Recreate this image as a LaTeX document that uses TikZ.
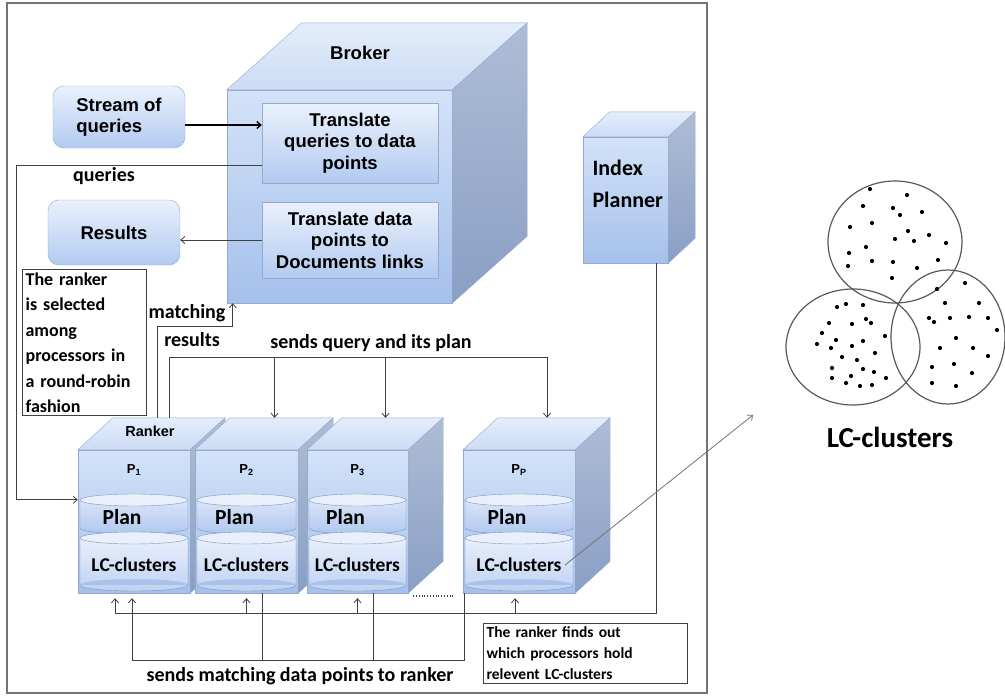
\documentclass[tikz,border=0pt]{standalone}
\usepackage{fontspec}
\usepackage{tikz}
\usetikzlibrary{arrows.meta}

\newfontfamily\arialfont{Liberation Sans}
\newfontfamily\calfont{Carlito}

\definecolor{fronttop}{HTML}{D3E2F8}
\definecolor{frontbot}{HTML}{A5C0EB}
\definecolor{topA}{HTML}{E4EDFB}
\definecolor{topB}{HTML}{CCDCF5}
\definecolor{sideA}{HTML}{AEBDD6}
\definecolor{sideB}{HTML}{8A9FC4}
\definecolor{edgeblue}{HTML}{93A9CD}
\definecolor{boxtop}{HTML}{EAF1FC}
\definecolor{boxbot}{HTML}{B2CAF0}
\definecolor{drumtop}{HTML}{E9F0FC}
\definecolor{drumrim}{HTML}{7D95BE}
\definecolor{planA}{HTML}{D9E5F8}
\definecolor{planB}{HTML}{AFC7EE}
\definecolor{lcA}{HTML}{E8EFFB}
\definecolor{lcB}{HTML}{BFD2F3}

\begin{document}
\begin{tikzpicture}[x=1pt, y=-1pt, >={Straight Barb[length=4pt,width=7pt]},
    front/.style = {draw=edgeblue, top color=fronttop, bottom color=frontbot, inner sep=0pt},
    topface/.style = {draw=edgeblue, top color=topA, bottom color=topB},
    sideface/.style = {draw=edgeblue, top color=sideA, bottom color=sideB},
    inbox/.style = {draw=edgeblue, top color=boxtop, bottom color=boxbot, align=center,
        font=\arialfont\bfseries\fontsize{18.5}{21.5}\selectfont},
    roundbox/.style = {inbox, rounded corners=11pt, minimum width=132pt},
    plandrum/.style = {top color=planA, bottom color=planB},
    lcdrum/.style = {top color=lcA, bottom color=lcB},
    drumcap/.style = {draw=drumrim, fill=drumtop},
    lbl/.style = {font=\calfont\bfseries\fontsize{20}{22}\selectfont},
    note/.style = {draw=black!75, line width=1.2pt, align=left, inner sep=3pt, anchor=north west},
    conn/.style = {draw=black!75, line width=0.8pt}]

\useasboundingbox (0,0) rectangle (1005,696);
\draw[black!55, line width=1.5pt] (7,3) rectangle (707,693);

% broker and index planner
\node[front, minimum width=225pt, minimum height=213pt] (broker) at (339.5,196.5) {};
\node[front, minimum width=85pt, minimum height=126pt] (planner) at (625.5,200) {};
\foreach \n/\dx/\dy in {broker/75/67, planner/27/25} {
    \path[topface] (\n.north west) -- ++(\dx,-\dy) -- ([shift={(\dx,-\dy)}]\n.north east) -- (\n.north east) -- cycle;
    \path[sideface] (\n.north east) -- ++(\dx,-\dy) -- ([shift={(\dx,-\dy)}]\n.south east) -- (\n.south east) -- cycle;
}
\node[font=\arialfont\bfseries\fontsize{18.5}{20}\selectfont] (brokerlbl) at (360,53) {Broker};
\node[font=\calfont\bfseries\fontsize{22}{32}\selectfont, align=left, anchor=west] (plannerlbl) at (589,184) {Index\\Planner};

\node[inbox, minimum width=176pt, minimum height=80pt] (tq) at (350,143) {Translate\\queries to data\\points};
\node[inbox, minimum width=176pt, minimum height=76pt] (td) at (350,240) {Translate data\\points to\\Documents links};

\node[roundbox, minimum height=62pt, align=left] (stream) at (119,117) {Stream of\\queries};
\node[roundbox, minimum height=65pt] (results) at (114,232.5) {Results};

% processors
\foreach \n/\x/\w/\s in {p1/134/112/1, p2/246.5/103/2, p3/357.5/101/3, pp/519/112/P} {
    \node[front, minimum width=\w pt, minimum height=143pt] (\n) at (\x,521.5) {};
    \path[topface] (\n.north west) -- ++(35,-32) -- ([shift={(35,-32)}]\n.north east) -- (\n.north east) -- cycle;
    \path[sideface] (\n.north east) -- ++(35,-32) -- ([shift={(35,-32)}]\n.south east) -- (\n.south east) -- cycle;
    \coordinate (\n-top) at ([shift={(35,-32)}]\n.north);
    \node[font=\arialfont\bfseries\fontsize{13}{15}\selectfont] (\n-name) at ([yshift=-20pt]\n.north) {P\textsubscript{\s}};
    \pgfmathsetmacro\rr{\w/2-2}
    % plan drum
    \path[plandrum] (\x-\rr,500) rectangle (\x+\rr,528) (\x,528) ellipse [x radius=\rr, y radius=6];
    \draw[drumrim] (\x-\rr,500) -- (\x-\rr,528) arc [start angle=180, end angle=0, x radius=\rr, y radius=6] -- (\x+\rr,500);
    \path[drumcap] (\x,500) ellipse [x radius=\rr, y radius=6];
    % clusters drum
    \path[lcdrum] (\x-\rr,538) rectangle (\x+\rr,585) (\x,585) ellipse [x radius=\rr, y radius=6];
    \draw[drumrim] (\x-\rr,538) -- (\x-\rr,585) arc [start angle=180, end angle=0, x radius=\rr, y radius=6] -- (\x+\rr,538);
    \path[drumcap] (\x,538) ellipse [x radius=\rr, y radius=6];
    \node[font=\calfont\bfseries\fontsize{21.5}{24}\selectfont] (\n-plan) at (\x-12,517) {Plan};
    \node[font=\calfont\bfseries\fontsize{19.5}{22}\selectfont] (\n-lc) at (\x,565) {LC-clusters};
}
\node[font=\arialfont\bfseries\fontsize{14.5}{16}\selectfont] (ranker) at ([xshift=16pt,yshift=18pt]p1.north) {Ranker};
\draw[conn, dotted, line width=1.6pt] ([xshift=5pt,yshift=-3pt]p3.south east) -- ([xshift=-8pt,yshift=-3pt]pp.south west);

% broker side
\draw[->, line width=1.3pt] ([yshift=-8pt]stream.east) -- ([yshift=-8pt]stream.east -| tq.west);
\draw[conn, ->] (td.west) -- (td.west -| results.east);
\draw[conn, ->] ([yshift=-22pt]tq.west) -- ++(-245,0) |- ([yshift=-50pt]p1.north west);
\node[lbl] (querieslbl) at (104,176) {queries};
\draw[conn, ->] ([xshift=-12pt]p1-top) |- ([xshift=6pt,yshift=-23pt]broker.south west) -- ([xshift=6pt]broker.south west);
\node[lbl] (matchlbl) at (187,313) {matching};
\node[lbl] (resultslbl) at (192,340) {results};

% query and plan to the processors
\coordinate (sq) at (0,357);
\draw[conn] (p1-top) |- ([xshift=-7pt]pp-top |- sq);
\foreach \n in {p2,p3,pp}
    \draw[conn, ->] ([xshift=-7pt]\n-top |- sq) -- ([xshift=-7pt]\n-top);
\node[lbl] (sendslbl) at (371,343) {sends query and its plan};

% index planner to the processors
\coordinate (ip) at (0,613);
\draw[conn] ([xshift=31pt]planner.south) |- ([xshift=-19pt]p1.south |- ip);
\foreach \n/\s in {p1/-19, p2/0, p3/0, pp/-4}
    \draw[conn, ->] ([xshift=\s pt]\n.south |- ip) -- ([xshift=\s pt,yshift=-5pt]\n.south);

% matching data points back to the ranker
\coordinate (sm) at (0,660);
\draw[conn, ->] ([xshift=2pt]pp.south west) |- ([xshift=-2pt]p1.south |- sm) -- ([xshift=-2pt,yshift=-5pt]p1.south);
\foreach \n in {p2,p3}
    \draw[conn] ([xshift=16pt]\n.south) -- ([xshift=16pt]\n.south |- sm);
\node[lbl] (matchdatalbl) at (300,676) {sends matching data points to ranker};

\node[note, font=\calfont\bfseries\fontsize{18}{25.5}\selectfont, text width=118pt, minimum height=145pt] (rankernote) at (22,269)
    {The ranker\\is selected\\among\\processors in\\a round-robin\\fashion};
\node[note, font=\calfont\bfseries\fontsize{15.5}{21}\selectfont, text width=198pt, minimum height=60pt] (findnote) at (483,623)
    {The ranker finds out\\which processors hold\\relevent LC-clusters};

% clusters
\coordinate (venn) at (753,415);
\draw[conn, black!55, ->] (pp-lc.east) -- (venn);
\draw[black!65, line width=1.2pt] (895,242) ellipse [x radius=67, y radius=61];
\draw[black!65, line width=1.2pt] (853,347) ellipse [x radius=67, y radius=58];
\draw[black!65, line width=1.2pt] (948,337) ellipse [x radius=57, y radius=67];
\foreach \px/\py in {870/189, 907/195, 863/206, 893/208, 900/215, 922/212, 850/227, 872/223, 908/231, 929/235,
    895/239, 914/241, 946/243, 866/247, 849/253, 938/260, 872/261, 893/262, 917/268, 848/266, 892/278,
    837/307, 846/304, 863/305, 866/319, 871/323, 829/323, 852/324, 822/333, 885/336, 817/344, 836/340,
    852/346, 863/341, 831/348, 875/353, 842/357, 857/360, 863/369, 832/368, 874/372, 851/376, 832/378,
    886/378, 846/383, 860/386, 872/385,
    965/283, 937/289, 945/303, 979/303, 929/318, 934/322, 950/318, 969/317, 988/318, 997/330, 956/338,
    940/348, 973/348, 988/356, 932/367, 954/364, 972/373, 932/383, 956/386}
    \fill (\px,\py) circle [radius=2.1];
\node[font=\calfont\bfseries\fontsize{29}{32}\selectfont] (lcbig) at (890,437) {LC-clusters};

\end{tikzpicture}
\end{document}
